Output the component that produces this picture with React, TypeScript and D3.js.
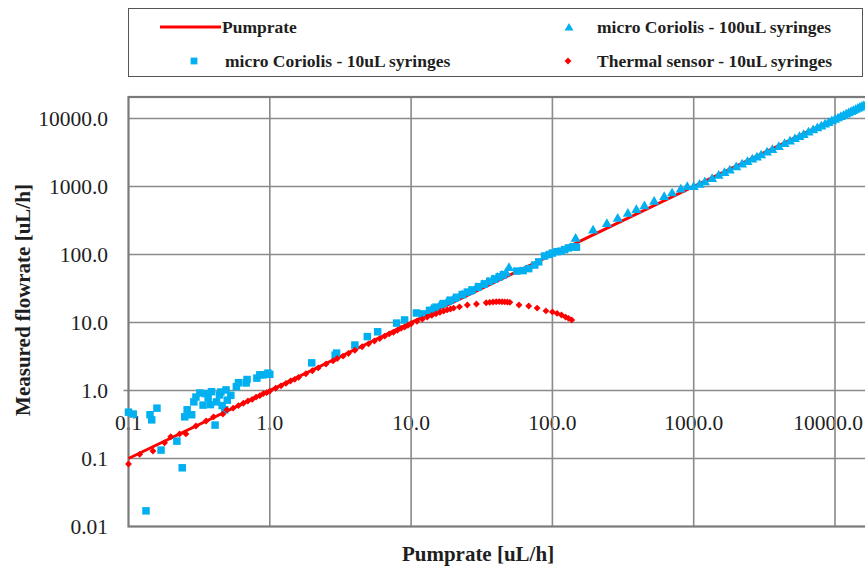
import * as d3 from 'd3';

// tick labels
const xTicks = [0.1, 1, 10, 100, 1000, 10000];
const xTickLabels = ['0.1', '1.0', '10.0', '100.0', '1000.0', '10000.0'];
const yTicks = [0.01, 0.1, 1, 10, 100, 1000, 10000];
const yTickLabels = ['0.01', '0.1', '1.0', '10.0', '100.0', '1000.0', '10000.0'];

// Pumprate reference line (measured = set)
const pumpX = [0.1, 20000];
const pumpY = [0.1, 20000];

// micro Coriolis - 10uL syringes
const c10X = [0.1, 0.108, 0.133, 0.142, 0.146, 0.159, 0.17, 0.22, 0.24, 0.25, 0.26, 0.28, 0.29, 0.3, 0.32, 0.337, 0.35, 0.366, 0.38, 0.387, 0.41, 0.42, 0.44, 0.45, 0.46, 0.48, 0.49, 0.5, 0.53, 0.58, 0.6, 0.68, 0.69, 0.81, 0.85, 0.9, 0.97, 1.0, 1.98, 2.9, 2.97, 4.0, 4.9, 5.8, 7.9, 9.0, 10.9, 12, 13.5, 15, 17, 19, 21, 23, 25, 27, 30, 33, 36, 39, 42, 45, 56, 62, 68, 75, 80, 88, 95, 100, 108, 115, 122, 130, 140, 148];
const c10Y = [0.48, 0.45, 0.017, 0.44, 0.37, 0.55, 0.133, 0.18, 0.073, 0.41, 0.52, 0.44, 0.68, 0.8, 0.92, 0.61, 0.9, 0.78, 0.62, 0.96, 0.31, 0.68, 0.86, 0.95, 0.6, 0.52, 1.02, 0.72, 0.85, 1.14, 1.3, 1.29, 1.45, 1.52, 1.7, 1.7, 1.8, 1.73, 2.55, 3.3, 3.55, 4.66, 6.2, 7.3, 9.8, 10.9, 13.8, 13.4, 15.1, 16.8, 19.0, 21.3, 23.5, 25.8, 28.0, 30.2, 33.6, 37.0, 40.3, 43.7, 47.0, 50.4, 57, 58, 62, 70, 78, 95, 100, 105, 110, 112, 118, 125, 130, 128];

// micro Coriolis - 100uL syringes
const c100X = [14, 16, 18, 20, 23, 26, 29, 32, 35, 38, 41, 44, 47, 49.3, 146, 194, 243, 290, 342, 393, 448, 525, 618, 703, 810, 900, 1000, 1100, 1200, 1350, 1500, 1650, 1800, 2000, 2200, 2400, 2600, 2800, 3000, 3300, 3600, 4000, 4400, 4800, 5200, 5600, 6000, 6500, 7000, 7500, 8000, 8500, 9000, 9500, 10000, 10500, 11000, 11500, 12000, 12500, 13000, 13500, 14000, 14500, 15000, 15500, 16000, 17000, 18000];
const c100Y = [15.5, 17.7, 20, 22, 25, 28.5, 32, 35.5, 39, 42, 45.5, 49, 53, 63, 170, 225, 280, 335, 395, 450, 510, 595, 700, 790, 900, 980, 980, 1060, 1150, 1290, 1430, 1570, 1720, 1910, 2100, 2290, 2480, 2670, 2860, 3150, 3430, 3810, 4190, 4580, 4960, 5340, 5720, 6200, 6680, 7150, 7630, 8110, 8580, 9060, 9540, 10010, 10490, 10970, 11450, 11920, 12400, 12880, 13350, 13830, 14310, 14790, 15260, 16220, 17170];

// Thermal sensor - 10uL syringes
const thX = [0.1, 0.12, 0.149, 0.18, 0.199, 0.23, 0.255, 0.3, 0.354, 0.4, 0.466, 0.496, 0.55, 0.6, 0.65, 0.7, 0.75, 0.8, 0.85, 0.9, 0.95, 1.0, 1.1, 1.2, 1.3, 1.4, 1.5, 1.6, 1.8, 2.0, 2.2, 2.5, 2.8, 3.0, 3.3, 3.6, 4.0, 4.5, 5.0, 5.5, 6.0, 6.5, 7.0, 7.5, 8.0, 8.5, 9.0, 9.5, 10, 11, 12, 13, 14, 15, 16, 17, 18, 19, 20, 22, 25, 29, 34, 36, 38, 40, 42, 44, 46, 48, 50, 58, 68, 78, 90, 100, 108, 116, 124, 130, 137];
const thY = [0.083, 0.115, 0.129, 0.17, 0.209, 0.23, 0.23, 0.3, 0.356, 0.41, 0.45, 0.52, 0.55, 0.6, 0.65, 0.7, 0.74, 0.8, 0.84, 0.9, 0.93, 0.98, 1.08, 1.17, 1.27, 1.38, 1.46, 1.56, 1.76, 1.95, 2.15, 2.45, 2.72, 2.95, 3.2, 3.5, 3.9, 4.4, 4.85, 5.35, 5.8, 6.3, 6.8, 7.2, 7.7, 8.2, 8.6, 9.1, 9.6, 10.4, 11.2, 12.0, 12.7, 13.4, 14.1, 14.7, 15.3, 15.8, 16.3, 17.0, 18.1, 18.7, 19.5, 19.8, 20.0, 20.2, 20.3, 20.2, 20.1, 20.0, 19.8, 18.1, 17.5, 16.3, 14.8, 14.3, 13.6, 12.9, 12.0, 11.5, 10.9];

const W = 865;
const H = 566;
const BLUE = '#00b0f0';
const RED = '#ff0000';
const GRID = '#8a8a8a';
const TXT = '#1e1e1e';
const FONT = '"Liberation Serif", "Times New Roman", serif';

export default function App() {
  const x = d3.scaleLog().domain([0.1, 10 ** 4.3]).range([128.5, 128.5 + 141.3 * 5.3]);
  const y = d3.scaleLog().domain([0.01, 10 ** 4.316]).range([526.5, 97]);

  const square = d3.symbol(d3.symbolSquare, 56)();
  const triangle = d3.symbol(d3.symbolTriangle, 44)();
  const diamond = d3.symbol(d3.symbolDiamond2, 30)();
  const legTriangle = d3.symbol(d3.symbolTriangle, 34)();
  const legSquare = d3.symbol(d3.symbolSquare, 46)();

  const pumpLine = d3.line<number>().x((d, i) => x(pumpX[i])).y((d, i) => y(pumpY[i]));

  const left = x(0.1);
  const top = y(10 ** 4.316);
  const bottom = y(0.01);
  const xAxisY = y(1);

  return (
    <svg width={W} height={H} style={{ position: 'fixed', left: 0, top: 0, background: '#fff' }} fontFamily={FONT}>
      <rect x={0} y={0} width={W} height={H} fill="#fff" />

      {/* legend */}
      <rect x={128.5} y={8.5} width={734} height={68} fill="#fff" stroke="#555" strokeWidth={1} />
      <g fontSize={17.5} fontWeight="bold" fill={TXT}>
        <line x1={160} x2={221} y1={27} y2={27} stroke={RED} strokeWidth={3} />
        <text x={222} y={27} dy="0.33em">Pumprate</text>
        <path d={legTriangle} transform="translate(569,28)" fill={BLUE} />
        <text x={597} y={27} dy="0.33em">micro Coriolis - 100uL syringes</text>
        <path d={legSquare} transform="translate(194,61)" fill={BLUE} />
        <text x={225} y={61} dy="0.33em">micro Coriolis - 10uL syringes</text>
        <path d={diamond} transform="translate(568,61)" fill={RED} />
        <text x={597} y={61} dy="0.33em">Thermal sensor - 10uL syringes</text>
      </g>

      {/* y tick labels */}
      <g fontSize={21.5} fill={TXT} textAnchor="end">
        {yTicks.map((t, i) => (
          <text key={t} x={108} y={y(t)} dy="0.35em">{yTickLabels[i]}</text>
        ))}
      </g>

      {/* x tick labels sit under the axis line at y = 1; last one kept inside the frame */}
      <g fontSize={21.5} fill={TXT}>
        {xTicks.map((t, i) => {
          const last = i === xTicks.length - 1;
          return (
            <text key={t} x={last ? W - 2 : x(t)} y={xAxisY + 40} textAnchor={last ? 'end' : 'middle'}>
              {xTickLabels[i]}
            </text>
          );
        })}
      </g>

      {/* grid */}
      <g stroke={GRID} strokeWidth={1.6}>
        {xTicks.slice(1).map(t => (
          <line key={t} x1={x(t)} x2={x(t)} y1={top} y2={bottom} />
        ))}
        {yTicks.slice(1).map(t => (
          <line key={t} x1={left} x2={W + 20} y1={y(t)} y2={y(t)} />
        ))}
        <line x1={left - 5} x2={left} y1={xAxisY} y2={xAxisY} />
      </g>
      <rect x={left} y={top} width={W + 20 - left} height={bottom - top} fill="none" stroke="#7a7a7a" strokeWidth={2.2} />

      {/* series */}
      <path d={pumpLine(pumpX) || ''} stroke={RED} strokeWidth={3} fill="none" />
      <g fill={BLUE}>
        {c10X.map((v, i) => (
          <path key={'s' + i} d={square} transform={`translate(${x(v)},${y(c10Y[i])})`} />
        ))}
        {c100X.map((v, i) => (
          <path key={'t' + i} d={triangle} transform={`translate(${x(v)},${y(c100Y[i])})`} />
        ))}
      </g>
      <g fill={RED}>
        {thX.map((v, i) => (
          <path key={'d' + i} d={diamond} transform={`translate(${x(v)},${y(thY[i])})`} />
        ))}
      </g>

      {/* axis titles */}
      <text x={478} y={554} dy="0.35em" textAnchor="middle" fontSize={21} fontWeight="bold" fill={TXT}>Pumprate [uL/h]</text>
      <text transform="translate(23,300) rotate(-90)" dy="0.35em" textAnchor="middle" fontSize={21} fontWeight="bold" fill={TXT}>Measured flowrate [uL/h]</text>
    </svg>
  );
}
